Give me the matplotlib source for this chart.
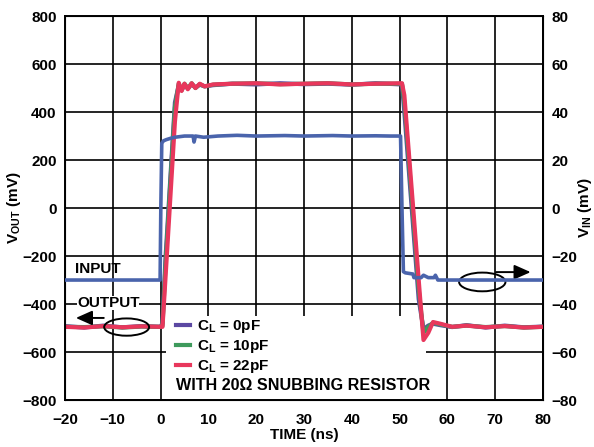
import matplotlib
matplotlib.use("Agg")
import matplotlib.pyplot as plt
from matplotlib.patches import Ellipse, Rectangle

# time axis and tick labels
x_ticks = [-20, -10, 0, 10, 20, 30, 40, 50, 60, 70, 80]
y_ticks_out = [-800, -600, -400, -200, 0, 200, 400, 600, 800]
y_ticks_in = [-80, -60, -40, -20, 0, 20, 40, 60, 80]

# input pulse (right axis, mV)
t_in = [-20, -0.1, 0.05, 0.25, 0.6, 1.2, 2.0, 3.0, 5.0, 6.8, 7.0, 7.3, 9, 12, 16, 20,
        26, 30, 36, 40, 45, 48, 50.2, 50.5, 50.8, 51.2, 52.8, 53.0, 54.5, 55.0, 56.0,
        57.2, 57.5, 58.0, 65, 80]
v_in = [-30, -30, 0, 27, 28, 28.5, 29, 29.5, 30, 30, 27.5, 30, 29.5, 30, 30.3, 30,
        30.2, 30, 30.2, 30, 30.1, 30, 30, 0, -26.5, -27, -27.5, -29, -29, -28, -29,
        -29, -28, -30, -30, -30]

# output responses (left axis, mV)
t_out = [-20, -16, -12, -8, -4, 0, 0.4, 1.0, 2.0, 3.0, 3.8, 4.4, 5.0, 5.7, 6.5, 7.3,
         8.2, 9.2, 11, 15, 20, 25, 30, 35, 40, 45, 50.5, 51.0, 52.0, 53.0, 54.0, 55.0,
         56.0, 57.0, 58.5, 61, 64, 68, 72, 76, 80]
v_0pf = [-492, -498, -490, -497, -492, -495, -480, -220, 110, 440, 512, 492, 515, 498,
         516, 502, 514, 507, 512, 518, 515, 520, 516, 518, 514, 520, 515, 400, 140,
         -120, -380, -505, -490, -482, -488, -496, -488, -498, -490, -497, -494]
v_10pf = [-495, -496, -493, -498, -494, -495, -490, -250, 90, 420, 518, 490, 518, 498,
          520, 500, 516, 507, 514, 518, 520, 516, 518, 520, 515, 518, 518, 440, 180,
          -80, -340, -520, -495, -478, -485, -495, -490, -496, -492, -498, -495]
v_22pf = [-495, -498, -492, -497, -493, -495, -495, -300, 30, 360, 522, 488, 518, 495,
          520, 500, 518, 507, 515, 518, 520, 515, 518, 520, 515, 518, 520, 470, 215,
          -40, -300, -550, -520, -475, -482, -495, -490, -497, -492, -498, -495]

labels = ["C$_\\mathbf{L}$ = 0pF", "C$_\\mathbf{L}$ = 10pF", "C$_\\mathbf{L}$ = 22pF"]
colors = ["#5B48A2", "#3E9A5C", "#E8375C"]
input_color = "#4A64AC"

plt.rcParams["font.family"] = ["Liberation Sans", "DejaVu Sans"]
plt.rcParams["font.weight"] = "bold"
plt.rcParams["font.size"] = 11
plt.rcParams["mathtext.fontset"] = "custom"
plt.rcParams["mathtext.rm"] = "Liberation Sans:bold"
plt.rcParams["mathtext.bf"] = "Liberation Sans:bold"
plt.rcParams["mathtext.it"] = "Liberation Sans:bold"

fig = plt.figure(figsize=(5.94, 4.47), dpi=100)
ax = fig.add_axes([0.1094, 0.1051, 0.8047, 0.859])
ax.set_axisbelow(True)

ax.set_xlim(-20, 80)
ax.set_ylim(-800, 800)
ax.set_xticks(x_ticks)
ax.set_yticks(y_ticks_out)
ax.grid(True, color="black", linewidth=1.2)
ax.tick_params(axis="y", length=0, pad=6, labelsize=11)
ax.tick_params(axis="x", length=0, pad=9, labelsize=11)
for s in ax.spines.values():
    s.set_linewidth(1.4)

# white box behind the legend hides the grid
ax.add_patch(Rectangle((1.2, -800), 54.3, 350, facecolor="white", edgecolor="none", zorder=1))

handles = []
for v, c, lab in zip([v_0pf, v_10pf, v_22pf], colors, labels):
    h, = ax.plot(t_out, v, color=c, linewidth=3.0, label=lab, zorder=3)
    handles.append(h)

ax.set_xlabel("TIME (ns)", fontweight="bold", labelpad=1)
ax.set_ylabel("V$_\\mathbf{OUT}$ (mV)", fontweight="bold")
ax.yaxis.set_label_coords(-0.088, 0.5)

ax2 = ax.twinx()
ax2.set_ylim(-80, 80)
ax2.set_yticks(y_ticks_in)
ax2.tick_params(length=0, pad=6, labelsize=11)
ax2.plot(t_in, v_in, color=input_color, linewidth=2.6, zorder=3)
ax2.set_ylabel("V$_\\mathbf{IN}$ (mV)", fontweight="bold")
ax2.yaxis.set_label_coords(1.069, 0.5)

leg = ax.legend(handles=handles, loc="upper left", bbox_to_anchor=(3.2, -458),
                bbox_transform=ax.transData, frameon=False, borderpad=0,
                borderaxespad=0, handlelength=0.9, handletextpad=0.5,
                labelspacing=0.2, prop={"weight": "bold", "size": 11})
leg.set_zorder(4)
ax.text(3.2, -740, "WITH 20\u03a9 SNUBBING RESISTOR", fontweight="bold", fontsize=11.6,
        va="center", ha="left", zorder=4)

# annotations
ax.text(-17.9, -271, "INPUT", fontweight="bold", va="baseline", ha="left", zorder=4)
ax.text(-17.5, -396, "OUTPUT", fontweight="bold", va="center", ha="left", zorder=4,
        bbox=dict(facecolor="white", edgecolor="none", pad=0))
ax.annotate("", xy=(-18.3, -458), xytext=(-11.3, -458),
            arrowprops=dict(arrowstyle="-|>,head_length=0.9,head_width=0.4",
                            color="black", lw=1.4), zorder=5)
ax.add_patch(Ellipse((-7.1, -496), 9.4, 72, facecolor="none", edgecolor="black",
                     linewidth=1.4, zorder=5))
ax.annotate("", xy=(78, -267), xytext=(69.6, -267),
            arrowprops=dict(arrowstyle="-|>,head_length=0.9,head_width=0.4",
                            color="black", lw=1.4), zorder=5)
ax.add_patch(Ellipse((67.3, -308), 9.7, 78, facecolor="none", edgecolor="black",
                     linewidth=1.4, zorder=5))

fig.savefig("out.png", dpi=100)
